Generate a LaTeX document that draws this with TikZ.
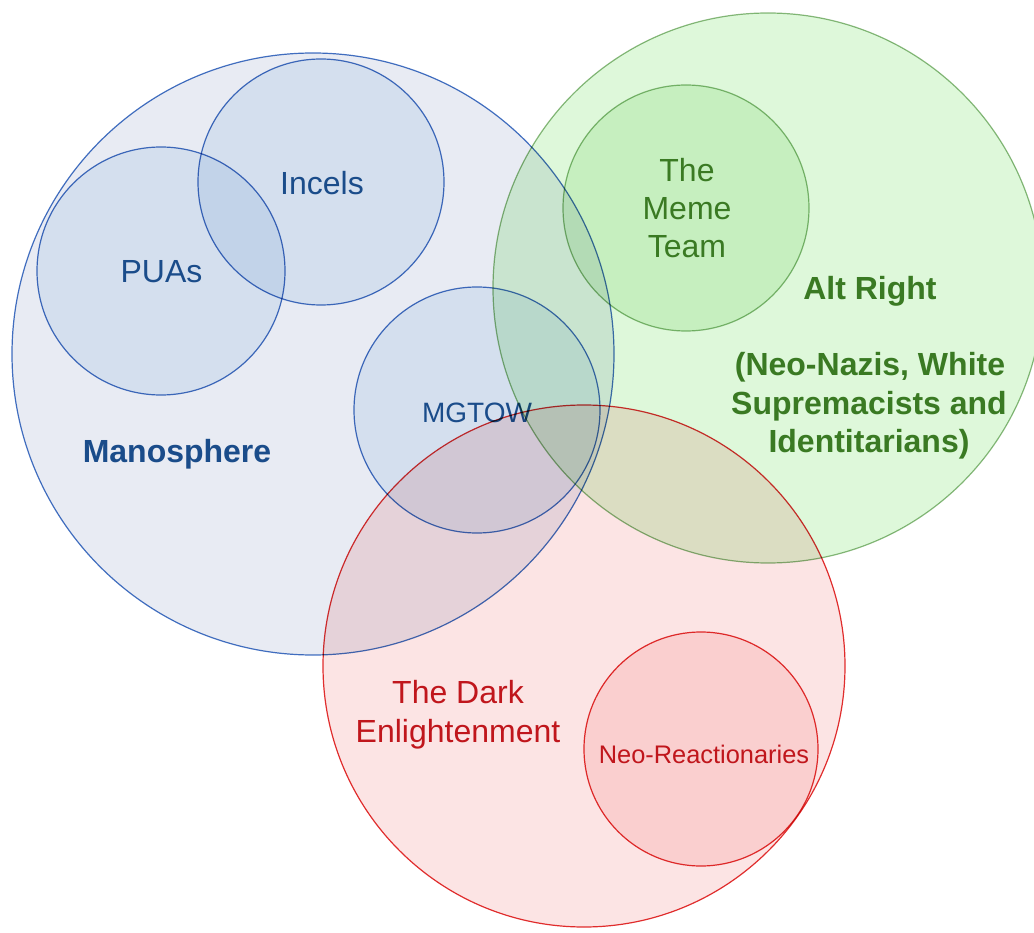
\documentclass[tikz,border=0pt]{standalone}
\usepackage{fontspec}
\setmainfont{Liberation Sans}
\definecolor{manofill}{RGB}{232,235,243}
\definecolor{subfill}{RGB}{234,242,250}
\definecolor{bluel}{RGB}{68,114,196}
\definecolor{bluet}{RGB}{26,76,138}
\definecolor{altfill}{RGB}{222,248,218}
\definecolor{memefill}{RGB}{228,246,224}
\definecolor{greenl}{RGB}{140,185,128}
\definecolor{greent}{RGB}{58,122,35}
\definecolor{darkfill}{RGB}{252,228,228}
\definecolor{neofill}{RGB}{253,232,232}
\definecolor{redl}{RGB}{226,48,48}
\definecolor{redt}{RGB}{192,22,28}
\tikzset{
  venn/.style={line width=1.2pt, blend mode=multiply},
  bluec/.style={venn, draw=bluel},
  greenc/.style={venn, draw=greenl},
  redc/.style={venn, draw=redl},
  lbl/.style={anchor=base, inner sep=0pt, font=\fontsize{32}{38}\selectfont},
}
\begin{document}
\begin{tikzpicture}[x=1pt,y=-1pt]
\useasboundingbox (0,0) rectangle (1034,933);
\clip (0,0) rectangle (1034,933);
% Manosphere group
\draw[bluec, fill=manofill] (313,354) circle (301);
\draw[bluec, fill=subfill] (161,271) circle (124);
\draw[bluec, fill=subfill] (321,182) circle (123);
\draw[bluec, fill=subfill] (477,410) circle (123);
\node[lbl, text=bluet] (puas) at (161.5,283) {PUAs};
\node[lbl, text=bluet] (incels) at (322,195) {Incels};
\node[lbl, text=bluet, font=\fontsize{32}{38}\selectfont\bfseries] (mano) at (177,462) {Manosphere};
\node[lbl, text=bluet, font=\fontsize{28}{34}\selectfont] (mgtow) at (477,422) {MGTOW};
% Alt Right group
\draw[greenc, fill=altfill] (768,288) circle (275);
\draw[greenc, fill=memefill] (686,208) circle (123);
\node[lbl, text=greent] (meme1) at (687,182) {The};
\node[lbl, text=greent] (meme2) at (687,220) {Meme};
\node[lbl, text=greent] (meme3) at (687,258) {Team};
\node[lbl, text=greent, font=\fontsize{32}{38}\selectfont\bfseries] (alt1) at (870,300) {Alt Right};
\node[lbl, text=greent, font=\fontsize{32}{38}\selectfont\bfseries] (alt2) at (870,376) {(Neo-Nazis, White};
\node[lbl, text=greent, font=\fontsize{32}{38}\selectfont\bfseries] (alt3) at (869,414) {Supremacists and};
\node[lbl, text=greent, font=\fontsize{32}{38}\selectfont\bfseries] (alt4) at (869,452) {Identitarians)};
% Dark Enlightenment group
\draw[redc, fill=darkfill] (584,666) circle (261);
\draw[redc, fill=neofill] (701,749) circle (117);
\node[lbl, text=redt] (dark1) at (458,703) {The Dark};
\node[lbl, text=redt] (dark2) at (458,742) {Enlightenment};
\node[lbl, text=redt, font=\fontsize{25.4}{30}\selectfont] (neo) at (704,763) {Neo-Reactionaries};
\end{tikzpicture}
\end{document}
